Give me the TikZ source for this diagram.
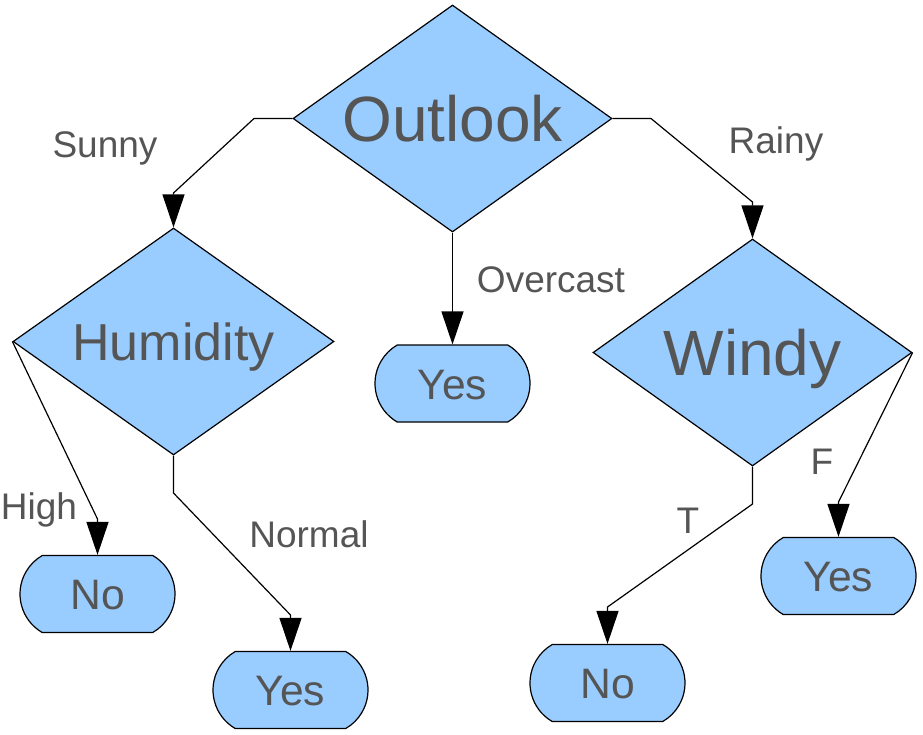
\documentclass[tikz,border=0pt]{standalone}
\usepackage{fontspec}
\setmainfont{Liberation Sans}
\usetikzlibrary{shapes.geometric,shapes.misc,arrows.meta}
\definecolor{boxfill}{HTML}{99CCFF}
\definecolor{txt}{HTML}{555555}
\tikzset{
  decision/.style={shape=diamond, draw=black, line width=0.6pt, fill=boxfill, inner sep=0pt, shape aspect=1.4, text=txt},
  bigdec/.style={decision, minimum width=159.5pt, minimum height=113.5pt, font=\fontsize{32}{38}\selectfont, text height=23pt, text depth=0pt},
  middec/.style={decision, minimum width=160.5pt, minimum height=113.5pt, font=\fontsize{26}{30}\selectfont, text height=18.7pt, text depth=0pt},
  leaf/.style={shape=rounded rectangle, rounded rectangle arc length=120, draw=black, line width=0.6pt, fill=boxfill, inner sep=0pt, minimum width=77.5pt, minimum height=38.5pt, text=txt, font=\fontsize{21.3}{25}\selectfont, text height=15.8pt, text depth=0pt},
  lbl/.style={anchor=base, text=txt, inner sep=0pt, font=\fontsize{18.5}{22}\selectfont},
  conn/.style={draw=black, line width=0.6pt, -{Triangle[width=11pt,length=16.5pt]}}
}
\begin{document}
\begin{tikzpicture}[x=0.5pt,y=-0.5pt]
\useasboundingbox (0,0) rectangle (923,735);
% decision nodes
\node[bigdec] (outlook) at (452.5,118.5) {Outlook};
\node[middec] (humidity) at (173.5,341.5) {Humidity};
\node[bigdec] (windy) at (752.5,352.5) {Windy};
% leaves
\node[leaf] (yesc) at (452.5,383.5) {Yes};
\node[leaf] (nol) at (97.5,594) {No};
\node[leaf] (yesbl) at (290.5,690) {Yes};
\node[leaf] (nobr) at (607.5,683) {No};
\node[leaf] (yesr) at (838.5,576) {Yes};
% bend points
\coordinate (s1) at (254,118.5);
\coordinate (s2) at (173.5,193);
\coordinate (r1) at (651,118.5);
\coordinate (r2) at (752.5,202);
\coordinate (h1) at (97.5,519);
\coordinate (n1) at (173.5,493);
\coordinate (n2) at (290.5,615);
\coordinate (t1) at (752.5,504);
\coordinate (t2) at (607.5,607);
\coordinate (f1) at (838.5,502);
% connectors
\draw[conn] (outlook.west) -- (s1) -- (s2) -- (humidity.north);
\draw[conn] (outlook.east) -- (r1) -- (r2) -- (windy.north);
\draw[conn] (outlook.south) -- (yesc.north);
\draw[conn] (humidity.west) -- (h1) -- (nol.north);
\draw[conn] (humidity.south) -- (n1) -- (n2) -- (yesbl.north);
\draw[conn] (windy.south) -- (t1) -- (t2) -- (nobr.north);
\draw[conn] (windy.east) -- (f1) -- (yesr.north);
% labels
\node[lbl] (lsunny) at (105,157) {Sunny};
\node[lbl] (lrainy) at (776,153) {Rainy};
\node[lbl] (lover) at (551,292) {Overcast};
\node[lbl] (lhigh) at (39,519) {High};
\node[lbl] (lnormal) at (309,547) {Normal};
\node[lbl] (lt) at (688,533) {T};
\node[lbl] (lf) at (822,474) {F};
\end{tikzpicture}
\end{document}
